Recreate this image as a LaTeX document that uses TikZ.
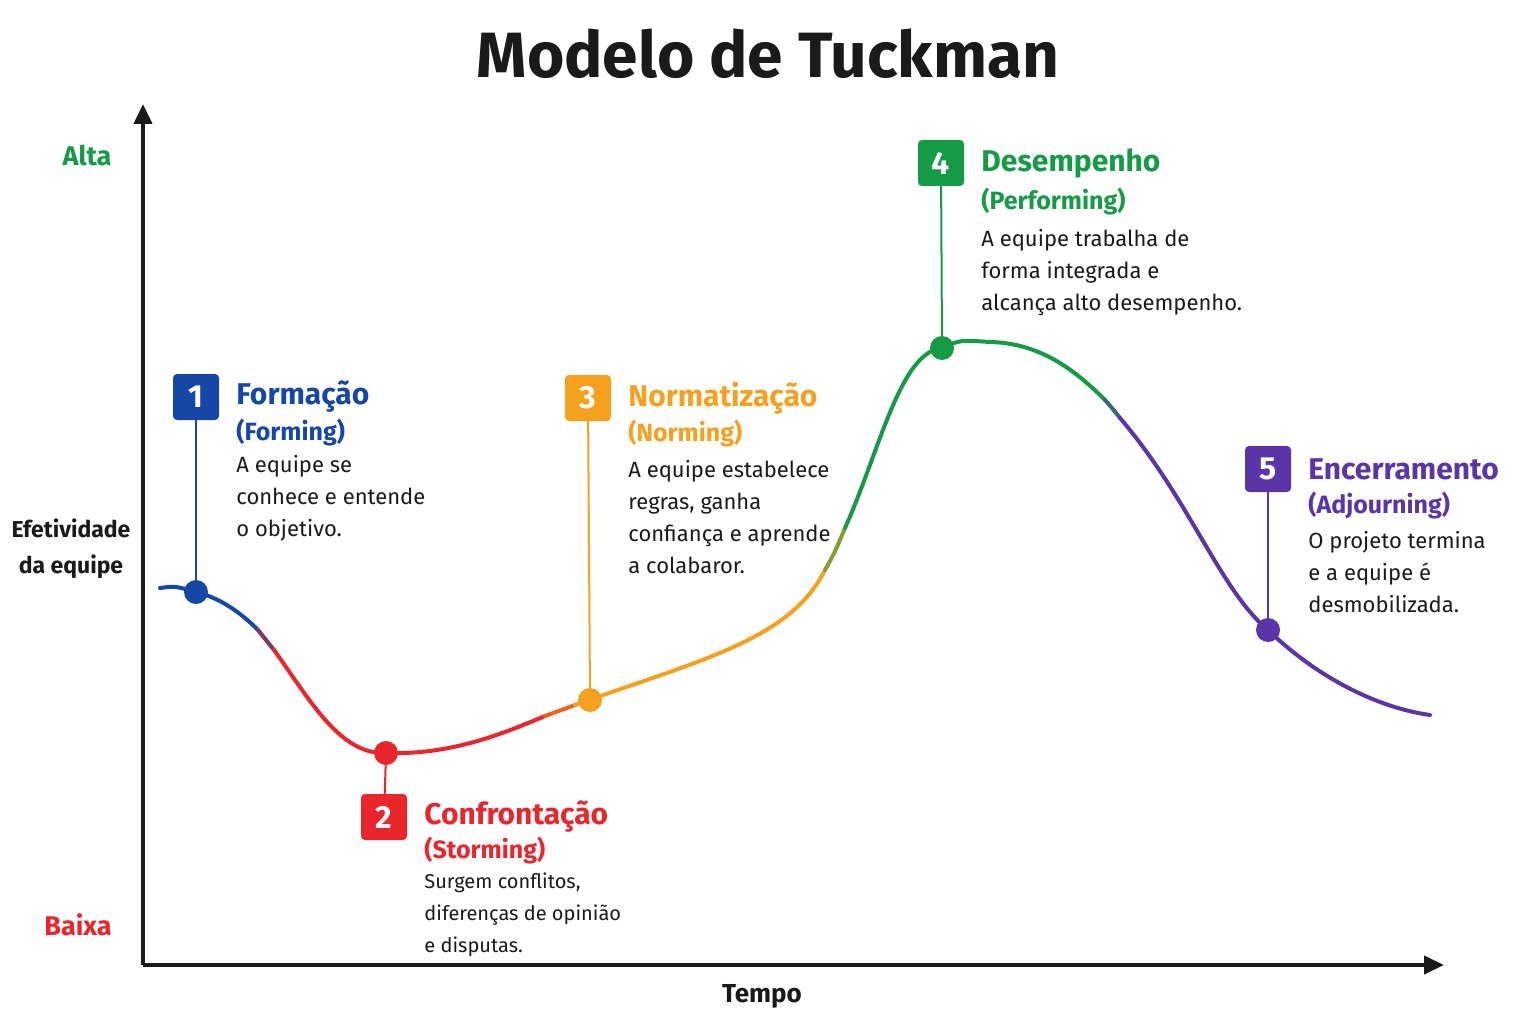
\documentclass[tikz,border=0pt]{standalone}
\usepackage{fontspec}
\setmainfont{Fira Sans}
\usetikzlibrary{arrows.meta}
\definecolor{cb}{HTML}{1447A6}
\definecolor{cr}{HTML}{E8262B}
\definecolor{co}{HTML}{F5A01E}
\definecolor{cg}{HTML}{159A45}
\definecolor{cp}{HTML}{5B34A8}
\definecolor{txt}{HTML}{1A1A1A}
\begin{document}
\begin{tikzpicture}[x=1pt,y=-1pt,
  numbox/.style={rounded corners=4pt,minimum size=46pt,inner sep=0pt,text=white,font=\fontsize{32}{32}\selectfont\bfseries},
  ttl/.style={anchor=west,inner sep=0pt,font=\fontsize{30}{30}\selectfont\bfseries},
  sub/.style={anchor=west,inner sep=0pt,font=\fontsize{25}{25}\selectfont\bfseries},
  desc/.style={anchor=north west,inner sep=0pt,text=txt,align=left,font=\fontsize{22}{32}\selectfont},
  dot/.style={circle,minimum size=24pt,inner sep=0pt},
  crv/.style={line width=4pt,line cap=round}]
\useasboundingbox (0,0) rectangle (1536,1024);
\node[font=\fontsize{64}{64}\selectfont\bfseries,text=txt] (title) at (768,54) {Modelo de Tuckman};
% axes
\coordinate (O) at (143,965);
\coordinate (Y) at (143,104);
\coordinate (X) at (1444,965);
\draw[line width=4pt,txt,-{Triangle[length=20pt,width=18pt]}] (O) -- (Y);
\draw[line width=4pt,txt,-{Triangle[length=20pt,width=18pt]}] (O) -- (X);
\node[text=cg,font=\fontsize{27}{27}\selectfont\bfseries] (alta) at (87,155) {Alta};
\node[text=cr,font=\fontsize{27}{27}\selectfont\bfseries] (baixa) at (78,925) {Baixa};
\node[text=txt,align=center,font=\fontsize{23}{36}\selectfont\bfseries] (efet) at (71,549) {Efetividade\\da equipe};
\node[text=txt,font=\fontsize{26}{26}\selectfont\bfseries] (tempo) at (762,996) {Tempo};
% curve
\draw[crv,cb] (160,588) .. controls (175,586) .. (196,592) .. controls (220,598) and (240,612) .. (258,630);
\draw[crv,cb!50!cr] (258,630) .. controls (266,640) .. (274,650);
\draw[crv,cr] (274,650) .. controls (310,700) and (340,755) .. (386,753) .. controls (450,755) and (500,735) .. (545,716);
\draw[crv,cr!50!co] (545,716) .. controls (560,710) .. (575,705);
\draw[crv,co] (575,705) .. controls (700,660) and (790,640) .. (825,570);
\draw[crv,co!50!cg] (825,570) .. controls (835,552) .. (845,528);
\draw[crv,cg] (845,528) .. controls (880,450) and (900,352) .. (942,348) .. controls (960,340) .. (990,342) .. controls (1040,343) and (1075,370) .. (1105,400);
\draw[crv,cg!50!cp] (1105,400) .. controls (1112,408) .. (1120,418);
\draw[crv,cp] (1120,418) .. controls (1190,500) and (1220,590) .. (1268,630) .. controls (1320,680) and (1380,708) .. (1430,715);
% stages
\newcommand{\stage}[9]{%
 \node[dot,fill=#1] (d#2) at (#3) {};
 \node[numbox,fill=#1] (b#2) at (#4) {#2};
 \draw[#1,line width=2pt] (b#2) -- (d#2);
 \node[ttl,text=#1] (t#2) at ([xshift=17pt]b#2.east) {#5};
 \node[sub,text=#1] (s#2) at ([yshift=-#8]t#2.west) {#6};
 \node[desc] (x#2) at ([yshift=-#9]s#2.west) {#7};}
\stage{cb}{1}{196,592}{196,397}{Formação}{(Forming)}{A equipe se\\conhece e entende\\o objetivo.}{36pt}{22pt}
\stage{cr}{2}{386,753}{384,817}{Confrontação}{(Storming)}{\fontsize{20}{28}\selectfont Surgem conflitos,\\\fontsize{20}{28}\selectfont diferenças de opinião\\\fontsize{20}{28}\selectfont e disputas.}{34pt}{22pt}
\stage{co}{3}{590,700}{588,398}{Normatização}{(Norming)}{A equipe estabelece\\regras, ganha\\confiança e aprende\\a colabaror.}{36pt}{26pt}
\stage{cg}{4}{942,348}{941,163}{Desempenho}{(Performing)}{A equipe trabalha de\\forma integrada e\\alcança alto desempenho.}{39pt}{27pt}
\stage{cp}{5}{1268,630}{1268,469}{Encerramento}{(Adjourning)}{O projeto termina\\e a equipe é\\desmobilizada.}{37pt}{25pt}
\end{tikzpicture}
\end{document}
